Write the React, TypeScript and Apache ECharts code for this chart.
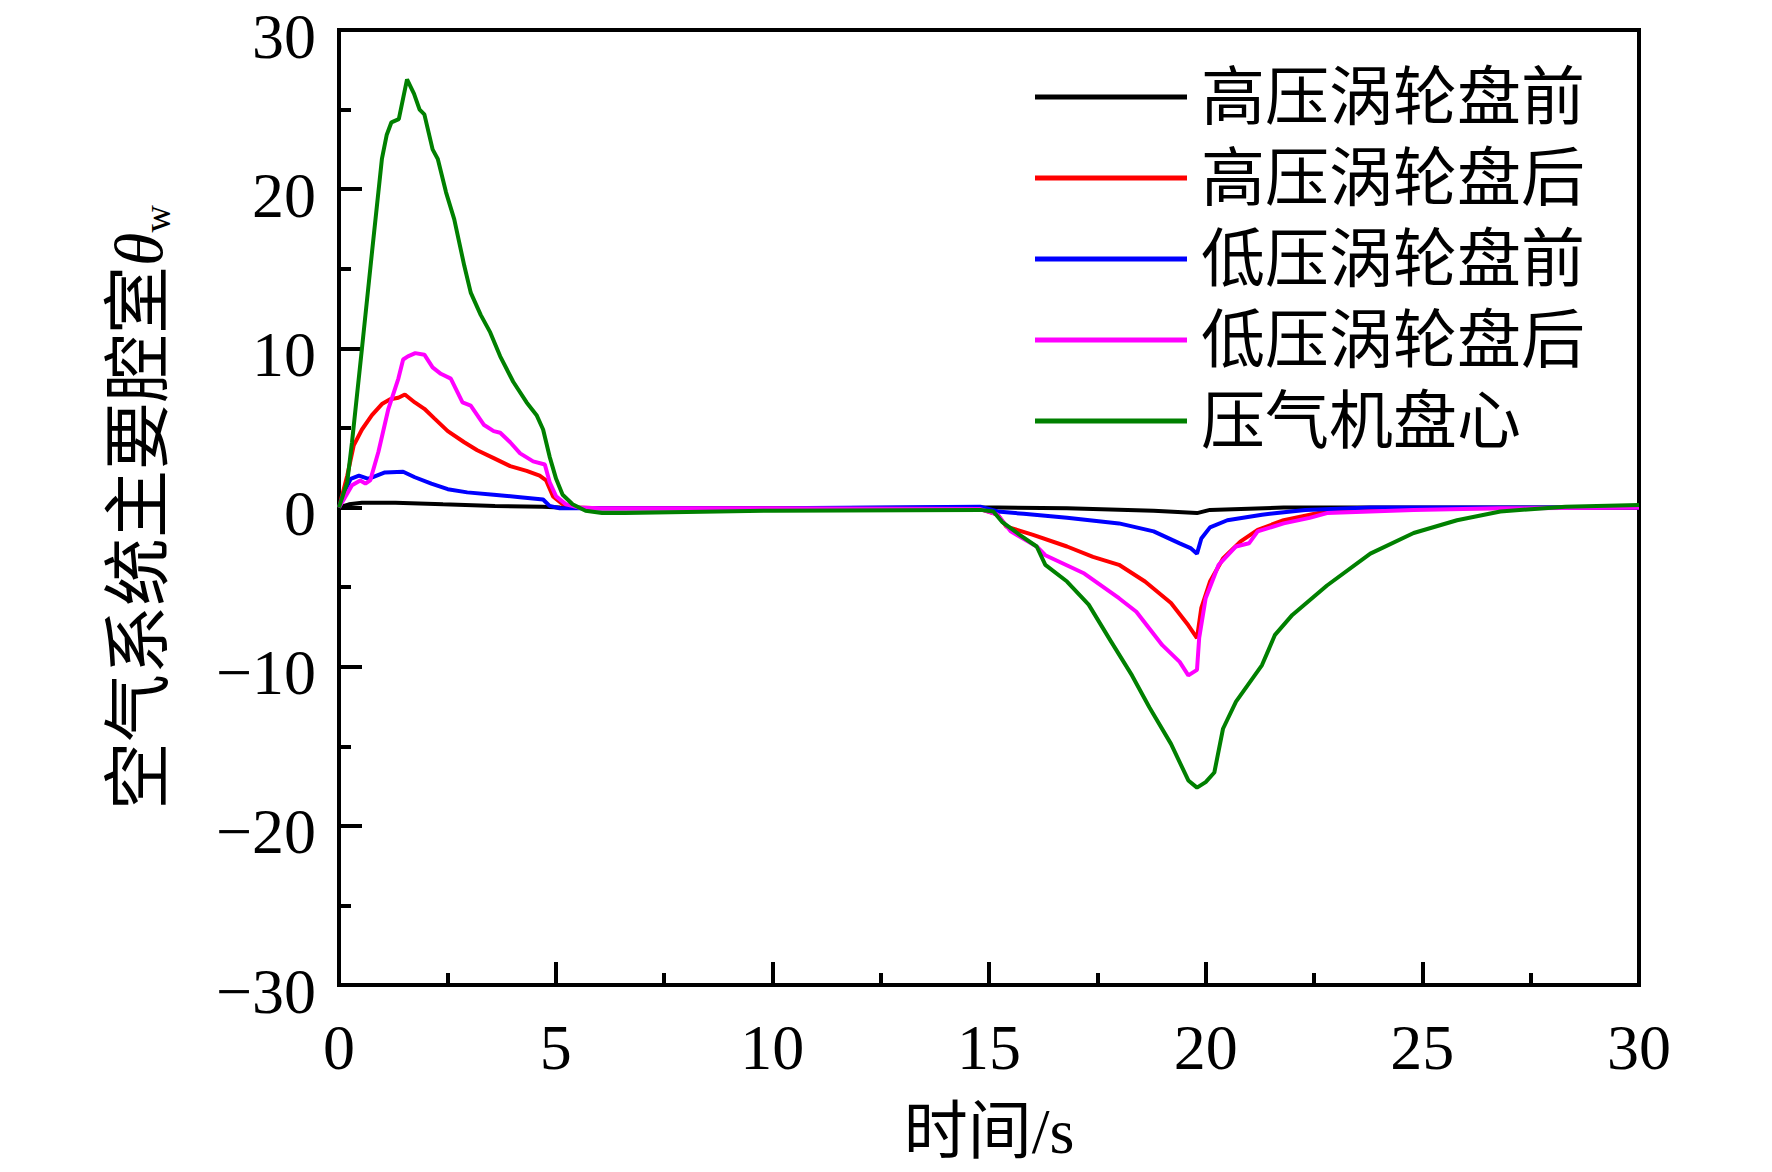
import React, { useEffect, useRef } from "react";
import * as echarts from "echarts";

const seriesNames = ["高压涡轮盘前", "高压涡轮盘后", "低压涡轮盘前", "低压涡轮盘后", "压气机盘心"];
const seriesColors = ["#000000", "#ff0000", "#0000ff", "#ff00ff", "#008000"];

const tHpFront = [0, 0.23, 0.53, 1.3, 2.4, 3.6, 4.7, 5.1, 6, 10, 15, 15.2, 16.8, 18.8, 19.8, 20.1, 21.8, 25, 30];
const vHpFront = [0, 0.2, 0.3, 0.3, 0.2, 0.1, 0.05, 0, -0.05, -0.05, 0, 0, -0.05, -0.2, -0.35, -0.15, 0, 0, 0];

const tHpRear = [0, 0.19, 0.34, 0.53, 0.76, 0.99, 1.18, 1.37, 1.52, 1.75, 1.97, 2.2, 2.51, 2.89, 3.19, 3.57, 3.95, 4.33, 4.63, 4.78, 4.94, 5.16, 5.47, 6, 10, 14.8, 15.2, 15.4, 16.0, 16.8, 17.4, 18.0, 18.6, 19.2, 19.6, 19.8, 19.9, 20.1, 20.4, 20.8, 21.2, 21.8, 22.6, 23.8, 25.8, 30];
const vHpRear = [0, 2.0, 3.9, 4.9, 5.8, 6.5, 6.8, 6.9, 7.1, 6.6, 6.2, 5.6, 4.8, 4.1, 3.6, 3.1, 2.6, 2.3, 2.0, 1.7, 0.7, 0.2, 0, -0.05, -0.05, -0.1, -0.45, -1.2, -1.7, -2.45, -3.1, -3.6, -4.65, -6.0, -7.4, -8.2, -6.3, -4.65, -3.2, -2.15, -1.4, -0.8, -0.35, -0.1, -0.05, 0];

const tLpFront = [0, 0.11, 0.27, 0.46, 0.68, 1.06, 1.48, 1.75, 2.13, 2.51, 2.96, 3.57, 4.18, 4.71, 4.86, 5.09, 6, 10, 14.8, 15.2, 15.8, 16.8, 18.0, 18.8, 19.4, 19.65, 19.8, 19.9, 20.1, 20.5, 21.3, 22.3, 23.8, 30];
const vLpFront = [0, 0.9, 1.8, 2.0, 1.8, 2.2, 2.25, 1.9, 1.5, 1.15, 0.95, 0.8, 0.65, 0.5, 0.1, -0.05, -0.05, -0.05, 0.05, -0.25, -0.4, -0.65, -1.0, -1.5, -2.25, -2.55, -2.9, -1.95, -1.25, -0.8, -0.45, -0.15, 0, 0];

const tLpRear = [0, 0.11, 0.3, 0.49, 0.61, 0.72, 0.91, 1.14, 1.37, 1.48, 1.59, 1.76, 1.97, 2.16, 2.35, 2.58, 2.85, 3.04, 3.34, 3.57, 3.72, 3.95, 4.18, 4.48, 4.75, 4.86, 5.01, 5.24, 5.54, 6, 10, 14.8, 15.2, 15.5, 16.1, 16.3, 17.2, 18.0, 18.4, 19.0, 19.4, 19.6, 19.8, 19.85, 20.0, 20.3, 20.7, 21.0, 21.2, 21.8, 22.4, 22.8, 24.8, 26.8, 30];
const vLpRear = [0, 0.5, 1.4, 1.7, 1.5, 1.7, 3.5, 6.2, 8.1, 9.3, 9.5, 9.7, 9.6, 8.8, 8.4, 8.1, 6.6, 6.4, 5.2, 4.8, 4.7, 4.1, 3.4, 2.9, 2.7, 1.6, 0.7, 0.2, 0, -0.05, -0.05, -0.1, -0.45, -1.5, -2.45, -3.0, -4.15, -5.7, -6.55, -8.65, -9.7, -10.55, -10.2, -8.2, -5.7, -3.6, -2.45, -2.25, -1.5, -1.0, -0.65, -0.35, -0.15, -0.05, 0];

const tComp = [0, 0.19, 0.3, 0.53, 0.76, 0.99, 1.1, 1.21, 1.38, 1.57, 1.73, 1.86, 1.97, 2.16, 2.28, 2.47, 2.66, 2.89, 3.04, 3.27, 3.49, 3.72, 4.02, 4.33, 4.56, 4.71, 4.86, 5.01, 5.16, 5.39, 5.69, 6.07, 6.6, 10, 14.8, 15.1, 15.3, 15.7, 16.1, 16.3, 16.8, 17.3, 17.8, 18.3, 18.7, 19.2, 19.6, 19.8, 20.0, 20.2, 20.4, 20.7, 21.3, 21.6, 22.0, 22.8, 23.8, 24.8, 25.8, 26.8, 28.3, 30];
const vComp = [0, 1.6, 4.1, 10.0, 16.0, 21.9, 23.4, 24.2, 24.4, 26.9, 26.0, 25.0, 24.7, 22.5, 21.9, 19.8, 18.1, 15.2, 13.5, 12.1, 11.0, 9.5, 7.9, 6.6, 5.8, 4.9, 3.2, 1.8, 0.8, 0.2, -0.2, -0.35, -0.35, -0.2, -0.15, -0.25, -0.9, -1.7, -2.45, -3.6, -4.65, -6.1, -8.35, -10.55, -12.55, -14.85, -17.15, -17.6, -17.25, -16.65, -13.9, -12.2, -9.9, -8.0, -6.75, -4.9, -2.9, -1.6, -0.8, -0.25, 0.05, 0.15];

const allTimes = [tHpFront, tHpRear, tLpFront, tLpRear, tComp];
const allValues = [vHpFront, vHpRear, vLpFront, vLpRear, vComp];

const xTitle = "时间/s";
const yTitleMain = "空气系统主要腔室";

const FONT = "'Liberation Serif', 'Noto Sans CJK SC', serif";

export default function App() {
  const ref = useRef<HTMLDivElement>(null);
  useEffect(() => {
    document.body.style.margin = "0";
    const chart = echarts.init(ref.current!, null, { renderer: "svg" });
    const series = seriesNames.map((name, i) => ({
      name,
      type: "line",
      symbol: "none",
      data: allTimes[i].map((t, j) => [t, allValues[i][j]]),
      lineStyle: { color: seriesColors[i], width: 4 },
      itemStyle: { color: seriesColors[i] },
      z: 2 + i,
    }));
    chart.setOption({
      animation: false,
      backgroundColor: "#ffffff",
      textStyle: { fontFamily: FONT },
      grid: {
        left: 339,
        right: 133,
        top: 30,
        bottom: 187,
        outerBoundsMode: "none",
        containLabel: false,
        show: true,
        borderColor: "#000",
        borderWidth: 4,
        backgroundColor: "transparent",
      },
      legend: {
        orient: "vertical",
        left: 1030,
        top: 56,
        icon: "rect",
        itemWidth: 152,
        itemHeight: 5,
        itemGap: 9,
        data: seriesNames,
        textStyle: {
          fontFamily: FONT,
          fontSize: 64,
          lineHeight: 72,
          color: "#000",
          padding: [0, 0, 0, 9],
        },
      },
      xAxis: {
        type: "value",
        min: 0,
        max: 30,
        interval: 5,
        name: xTitle,
        nameLocation: "middle",
        nameGap: 114,
        nameTextStyle: { fontFamily: FONT, fontSize: 64, color: "#000" },
        axisLine: { show: true, onZero: false, lineStyle: { color: "#000", width: 4 } },
        axisTick: { show: true, inside: true, length: 23, lineStyle: { color: "#000", width: 4 } },
        minorTick: { show: true, splitNumber: 2, length: 12, lineStyle: { color: "#000", width: 4 } },
        splitLine: { show: false },
        axisLabel: { fontFamily: FONT, fontSize: 64, color: "#000", margin: 30 },
      },
      yAxis: {
        type: "value",
        min: -30,
        max: 30,
        interval: 10,
        name: `{a|${yTitleMain}}{t|θ}{s|w}`,
        nameLocation: "middle",
        nameRotate: 90,
        nameGap: 163,
        nameTextStyle: {
          fontFamily: FONT,
          fontSize: 68,
          color: "#000",
          rich: {
            a: { fontFamily: FONT, fontSize: 68, color: "#000", lineHeight: 74 },
            t: { fontFamily: FONT, fontSize: 68, fontStyle: "italic", color: "#000", lineHeight: 74 },
            s: { fontFamily: FONT, fontSize: 38, color: "#000", verticalAlign: "bottom", lineHeight: 74, padding: [24, 0, 0, 0] },
          },
        },
        axisLine: { show: true, onZero: false, lineStyle: { color: "#000", width: 4 } },
        axisTick: { show: true, inside: true, length: 23, lineStyle: { color: "#000", width: 4 } },
        minorTick: { show: true, splitNumber: 2, length: 12, lineStyle: { color: "#000", width: 4 } },
        splitLine: { show: false },
        axisLabel: {
          fontFamily: FONT,
          fontSize: 64,
          color: "#000",
          margin: 23,
          formatter: (v: number) => "{n|" + (v < 0 ? "\u2212" + Math.abs(v) : String(v)) + "}",
          rich: {
            n: { fontFamily: FONT, fontSize: 64, color: "#000", lineHeight: 40, padding: [12, 0, 0, 0] },
          },
        },
      },
      series,
    });
    return () => chart.dispose();
  }, []);
  return (
    <div
      ref={ref}
      style={{ position: "absolute", left: 0, top: 0, width: 1772, height: 1172, background: "#fff" }}
    />
  );
}
